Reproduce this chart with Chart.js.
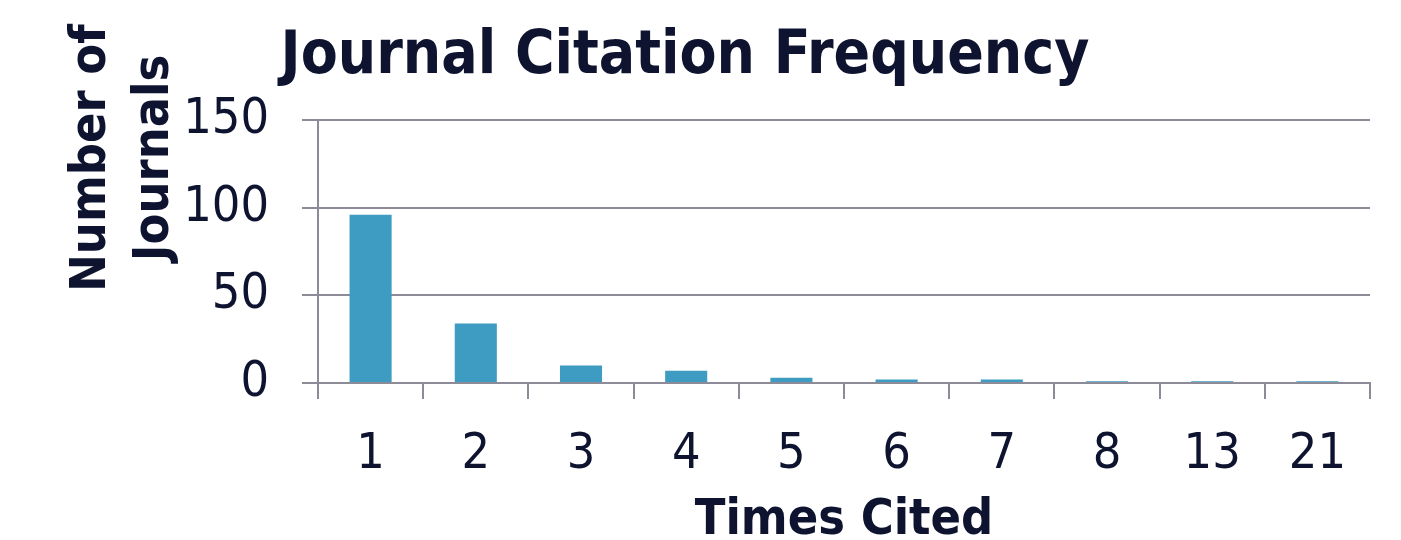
<!DOCTYPE html>
<html>
<head>
<meta charset="utf-8">
<script src="https://cdn.jsdelivr.net/npm/chart.js@4"></script>
<style>
  html, body { margin: 0; padding: 0; background: #ffffff; }
  #wrap { width: 1401px; height: 540px; }
</style>
</head>
<body>
<div id="wrap"><canvas id="chart"></canvas></div>
<script>
// data
const timesCited = ['1', '2', '3', '4', '5', '6', '7', '8', '13', '21'];
const journalCounts = [96, 34, 10, 7, 3, 2, 2, 1, 1, 1];
const yTicks = [0, 50, 100, 150];

const textColor = '#0e1430';
const gridColor = '#8c8b97';
const barColor = '#3e9cc3';
const fontFamily = "'DejaVu Sans Condensed', 'DejaVu Sans', sans-serif";

// y axis title is two lines sitting higher than the axis middle, so draw it here
const yTitlePlugin = {
  id: 'yTitle',
  afterDraw(chart) {
    const ctx = chart.ctx;
    const lines = [
      { text: 'Number of', x: 105 },
      { text: 'Journals', x: 168 }
    ];
    ctx.save();
    ctx.fillStyle = textColor;
    ctx.font = 'bold 50px ' + fontFamily;
    ctx.textAlign = 'center';
    ctx.textBaseline = 'alphabetic';
    lines.forEach(l => {
      ctx.save();
      ctx.translate(l.x, 158);
      ctx.rotate(-Math.PI / 2);
      ctx.fillText(l.text, 0, 0);
      ctx.restore();
    });
    ctx.restore();
  }
};

const ctx = document.getElementById('chart').getContext('2d');
const chart = new Chart(ctx, {
  type: 'bar',
  data: {
    labels: timesCited,
    datasets: [{
      label: 'Number of Journals',
      data: journalCounts,
      backgroundColor: barColor,
      borderWidth: 0,
      barPercentage: 0.4,
      categoryPercentage: 1.0
    }]
  },
  options: {
    responsive: true,
    maintainAspectRatio: false,
    animation: false,
    devicePixelRatio: 1,
    layout: { padding: { left: 0, right: 31, top: 0, bottom: 0 } },
    plugins: {
      legend: { display: false },
      tooltip: { enabled: false },
      title: {
        display: true,
        text: 'Journal Citation Frequency',
        color: textColor,
        font: { family: fontFamily, size: 60, weight: 'bold', lineHeight: 1 },
        padding: { top: 27, bottom: 33 }
      }
    },
    scales: {
      x: {
        offset: true,
        grid: {
          display: true,
          offset: true,
          drawOnChartArea: false,
          drawTicks: true,
          tickLength: 16,
          color: gridColor,
          lineWidth: 2
        },
        border: { display: true, color: gridColor, width: 2 },
        ticks: {
          color: textColor,
          font: { family: fontFamily, size: 50 },
          padding: 26,
          maxRotation: 0
        },
        title: {
          display: true,
          text: 'Times Cited',
          color: textColor,
          font: { family: fontFamily, size: 50, weight: 'bold', lineHeight: 0.2 },
          padding: { top: 0, bottom: 14 }
        },
        afterFit(scale) { scale.height = 157; }
      },
      y: {
        min: 0,
        max: 150,
        afterBuildTicks(scale) { scale.ticks = yTicks.map(v => ({ value: v })); },
        grid: {
          color: gridColor,
          lineWidth: 2,
          tickLength: 16
        },
        border: { display: true, color: gridColor, width: 2 },
        ticks: {
          color: textColor,
          font: { family: fontFamily, size: 50 },
          padding: 33
        },
        afterFit(scale) { scale.width = 318; }
      }
    }
  },
  plugins: [yTitlePlugin]
});
</script>
</body>
</html>
